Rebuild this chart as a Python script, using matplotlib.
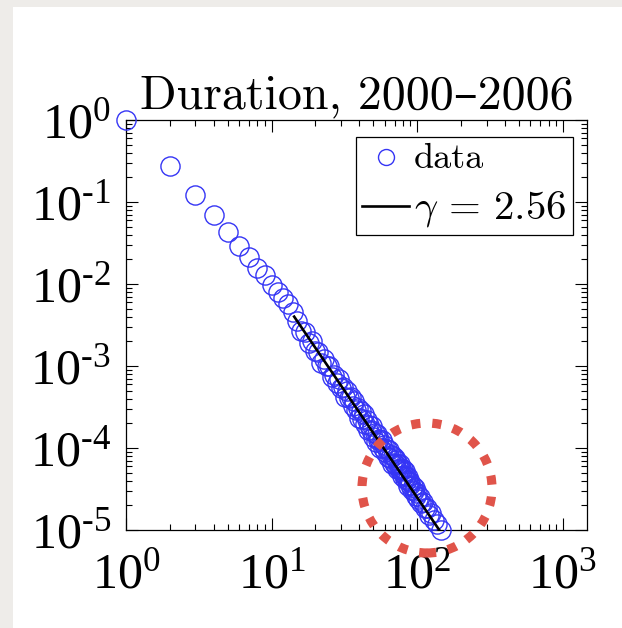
import numpy as np
import matplotlib
matplotlib.use('Agg')
import matplotlib.pyplot as plt
from matplotlib.patches import Ellipse, Rectangle
from matplotlib.ticker import NullFormatter, LogLocator

# 讀圖估計的資料 (持續時間分佈)
duration = [1, 2, 3, 4, 5, 6, 7, 8, 9, 10, 11, 12, 13, 14,
            15, 16, 17, 18, 19, 20, 21, 22, 23, 24, 25, 26, 27, 28, 29, 30,
            31, 32, 33, 34, 35, 36, 37, 38, 39, 40, 41, 42, 43, 44, 45, 46,
            47, 48, 49, 50, 51, 52, 53, 54, 55, 56, 57, 58, 59, 60, 62, 63,
            64, 65, 66, 67, 68, 69, 70, 71, 72, 73, 74, 75, 76, 77, 78, 79,
            80, 81, 82, 83, 84, 85, 86, 87, 88, 89, 90, 92, 93, 95, 96, 98,
            100, 102, 105, 107, 110, 113, 117, 120, 124, 130, 136, 145]
prob = [1.0, 0.275, 0.122, 0.069, 0.043, 0.029, 0.0215, 0.0158, 0.0127, 0.0098,
        0.0081, 0.0068, 0.0057, 0.0046,
        3.54e-3, 2.68e-3, 2.63e-3, 1.93e-3, 2.02e-3, 1.51e-3, 1.50e-3, 1.10e-3,
        1.21e-3, 9.9e-4, 1.00e-3, 7.38e-4, 7.69e-4, 6.24e-4, 7.01e-4, 5.36e-4,
        5.52e-4, 4.24e-4, 4.93e-4, 4.06e-4, 4.14e-4, 3.21e-4, 3.76e-4, 2.92e-4,
        3.07e-4, 2.34e-4, 2.82e-4, 2.26e-4, 2.62e-4, 1.96e-4, 2.18e-4, 1.67e-4,
        1.90e-4, 1.64e-4, 1.83e-4, 1.38e-4, 1.51e-4, 1.19e-4, 1.47e-4, 1.24e-4,
        1.27e-4, 1.01e-4, 1.24e-4, 9.9e-5, 1.09e-4, 8.87e-5, 9.8e-5, 7.66e-5,
        9.46e-5, 7.57e-5, 8.17e-5, 6.38e-5, 7.93e-5, 6.65e-5, 7.53e-5, 6.47e-5,
        7.16e-5, 5.50e-5, 6.38e-5, 5.62e-5, 6.38e-5, 5.38e-5, 5.70e-5, 4.59e-5,
        5.47e-5, 4.72e-5, 5.26e-5, 4.14e-5, 4.61e-5, 4.08e-5, 4.45e-5, 3.43e-5,
        4.00e-5, 3.55e-5, 3.86e-5, 3.04e-5, 3.40e-5, 3.00e-5, 3.27e-5, 2.59e-5,
        2.82e-5, 2.39e-5, 2.55e-5, 2.16e-5, 2.21e-5, 1.84e-5, 1.84e-5, 1.54e-5,
        1.59e-5, 1.31e-5, 1.19e-5, 1.0e-5]

# 擬合直線端點 (gamma = 2.56)
fit_x = [14.3, 142]
fit_y = [4.0e-3, 1.0e-5]
fit_label = r'$\gamma\,=\,2.56$'

xticks = [1, 10, 100, 1000]
xtick_labels = [r'$\mathdefault{10^{0}}$', r'$\mathdefault{10^{1}}$',
                r'$\mathdefault{10^{2}}$', r'$\mathdefault{10^{3}}$']
yticks = [1e0, 1e-1, 1e-2, 1e-3, 1e-4, 1e-5]
ytick_labels = [r'$\mathdefault{10^{0}}$', r'$\mathdefault{10^{‐1}}$',
                r'$\mathdefault{10^{‐2}}$', r'$\mathdefault{10^{‐3}}$',
                r'$\mathdefault{10^{‐4}}$', r'$\mathdefault{10^{‐5}}$']

plt.rcParams['font.family'] = ['Liberation Serif', 'DejaVu Serif']
plt.rcParams['mathtext.fontset'] = 'stix'

W, H = 622, 628
fig = plt.figure(figsize=(W / 100, H / 100), dpi=100, facecolor='#eeece9')
fig.add_artist(Rectangle((13 / W, 0), 1 - 13 / W, (H - 7) / H, transform=fig.transFigure,
                         facecolor='white', edgecolor='none', zorder=0))

ax = fig.add_axes([126 / W, 1 - 530 / H, 461 / W, 410 / H])
ax.set_xscale('log')
ax.set_yscale('log')

ax.plot(duration, prob, 'o', mfc='none', mec='#3535f5', ms=13.8, mew=1.0,
        label='data', zorder=3, clip_on=False)
ax.plot(fit_x, fit_y, '-', color='black', lw=1.9, label=fit_label, zorder=4)

ax.set_xlim(1, 1470)
ax.set_ylim(1e-5, 1)
ax.set_xticks(xticks)
ax.set_xticklabels(xtick_labels)
ax.set_yticks(yticks)
ax.set_yticklabels(ytick_labels)
ax.xaxis.set_minor_locator(LogLocator(base=10, subs=np.arange(2, 10), numticks=30))
ax.yaxis.set_minor_locator(LogLocator(base=10, subs=np.arange(2, 10), numticks=30))
ax.xaxis.set_minor_formatter(NullFormatter())
ax.yaxis.set_minor_formatter(NullFormatter())

ax.tick_params(which='both', direction='in', top=True, right=True, width=0.8)
ax.tick_params(which='major', length=8.3, labelsize=36)
ax.tick_params(which='minor', length=4.3)
ax.tick_params(axis='x', which='major', pad=16)
ax.tick_params(axis='y', which='major', pad=11)
for s in ax.spines.values():
    s.set_linewidth(0.9)

ax.set_title('Duration, 2000–2006', fontsize=34.5, family=['cmr10', 'DejaVu Serif'], pad=8.6)

leg = ax.legend(loc='upper right', bbox_to_anchor=(0.9696, 0.9585), borderaxespad=0,
                fancybox=False, edgecolor='black', framealpha=1, fontsize=24,
                handlelength=1.4, handletextpad=0.15, borderpad=0.2, labelspacing=0.4)
leg.get_frame().set_linewidth(0.9)
leg.get_texts()[0].set_family(['cmr10', 'DejaVu Serif'])
leg.get_texts()[0].set_fontsize(26)
leg.get_texts()[1].set_math_fontfamily('cm')
leg.get_texts()[1].set_fontsize(29.5)
leg.legend_handles[0].set_markersize(11.5)

# 紅色虛線圈
fig.add_artist(Ellipse((427 / W, 1 - 488 / H), 130 / W, 130 / H, transform=fig.transFigure,
                       fill=False, edgecolor='#e0544a', lw=6.6, linestyle=(0, (1.0, 1.3)),
                       zorder=10))

fig.savefig('out.png', dpi=100, facecolor=fig.get_facecolor())
